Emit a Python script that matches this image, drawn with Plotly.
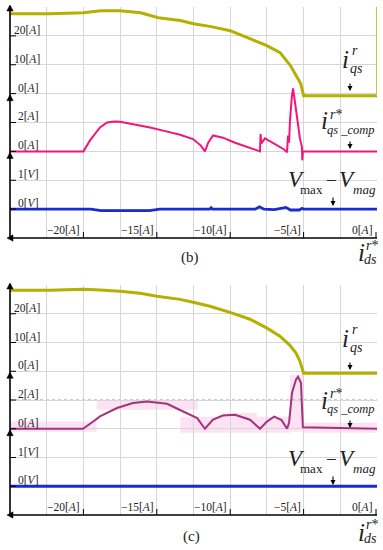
import plotly.graph_objects as go

# ---------------- data ----------------
# panel (b)
b_yel_x = [-25, -22.3, -20.0, -18.8, -17.5, -16.1, -14.9, -13.4, -12.5, -11.3, -10.0, -8.6, -7.5, -6.6, -5.9, -5.5, -5.2, -5.0, 0]
b_yel_y = [27.7, 27.7, 28.0, 28.7, 28.7, 28.0, 26.3, 25.3, 24.2, 23.2, 21.8, 19.0, 16.6, 14.2, 9.7, 6.2, 3.5, -0.7, -0.7]

b_pnk_x = [-25, -20.0, -19.55, -18.87, -18.39, -17.9, -17.5, -16.5, -15.46, -14.5, -13.42, -12.53, -12.0, -11.72,
           -11.5, -11.17, -10.5, -9.67, -8.8, -7.97, -7.93, -7.88, -7.63, -6.95, -6.35, -6.13, -6.06, -5.99,
           -5.93, -5.80, -5.72, -5.60, -5.45, -5.25, -5.11, -5.09, -5.05, 0]
b_pnk_y = [0, 0, 0.76, 1.66, 2.0, 2.07, 2.05, 1.88, 1.66, 1.42, 1.15, 0.85, 0.4, 0.0,
           0.6, 1.1, 0.95, 0.6, 0.32, 0.0, 1.2, 0.55, 0.9, 0.48, 0.15, -0.07, 1.1, 0.6,
           2.1, 3.8, 4.36, 3.5, 2.2, 0.9, 0.28, -0.62, 0, 0]

b_blu_x = [-25, -19.5, -18.8, -15.5, -14.8, -11.4, -11.3, -11.2, -8.3, -8.0, -7.7, -7.0, -6.2, -5.9, -5.3, -5.1, -5.0, 0]
b_blu_y = [0, 0, -0.05, -0.05, 0, 0, 0.05, 0, 0, 0.08, 0, -0.02, 0.06, -0.03, -0.03, 0.03, 0, 0]

# panel (c)
c_yel_x = [-25, -22.28, -20.03, -18.87, -17.51, -16.14, -14.99, -13.42, -12.53, -11.38, -10.01, -8.65, -7.49,
           -6.61, -5.93, -5.52, -5.25, -5.11, -5.04, -5.0, 0]
c_yel_y = [28.2, 28.2, 28.5, 28.3, 27.8, 27.1, 26.1, 25.0, 24.0, 22.6, 20.5, 18.1, 15.0,
           12.2, 9.0, 6.3, 3.5, 1.0, -0.3, -0.7, -0.7]

c_pnk_x = [-25, -20.03, -19.4, -18.87, -17.71, -16.62, -15.67, -14.3, -13.2, -12.25, -11.72,
           -11.17, -10.5, -9.67, -8.65, -7.97, -7.5, -7.0, -6.5, -6.13,
           -5.99, -5.79, -5.52, -5.38, -5.18, -5.11, -5.05, 0]
c_pnk_y = [0, 0, 0.45, 0.86, 1.44, 1.79, 1.90, 1.74, 1.2, 0.74, 0.0,
           0.63, 0.92, 0.97, 0.63, 0.0, 0.5, 0.85, 0.6, 0.0,
           0.42, 2.5, 3.41, 3.62, 3.2, 1.8, 0.1, 0]

c_blu_x = [-25, -15, -10, -5, 0]
c_blu_y = [0, 0, 0, 0, 0]

# light-pink persistence envelope in (c): [x0, x1, y0, y1] in the pink channel units
c_env = [[-25, -19.1, -0.2, 0.5], [-19.1, -12.2, 1.32, 2.02], [-13.4, -5.93, -0.28, 0.83],
         [-10.5, -8.2, 0.77, 1.1], [-5.93, -5.04, -0.2, 3.76], [-5.04, 0, -0.28, 0.42]]

# ---------------- style ----------------
W, H = 383, 550
YEL = '#b4b000'
PNK = '#f2157b'
PNK_D = '#a3347a'
BLU = '#1a2bd0'
GRID = '#d6d6d6'
SERIF = 'Liberation Serif'


def PX(x):
    return x / W


def PY(y):
    return 1 - y / H


fig = go.Figure()

fig.add_trace(go.Scatter(x=b_yel_x, y=b_yel_y, xaxis='x', yaxis='y', mode='lines', line=dict(color=YEL, width=3)))
fig.add_trace(go.Scatter(x=b_pnk_x, y=b_pnk_y, xaxis='x', yaxis='y2', mode='lines', line=dict(color=PNK, width=2)))
fig.add_trace(go.Scatter(x=b_blu_x, y=b_blu_y, xaxis='x', yaxis='y3', mode='lines', line=dict(color=BLU, width=2.8)))

fig.add_trace(go.Scatter(x=c_yel_x, y=c_yel_y, xaxis='x2', yaxis='y4', mode='lines', line=dict(color=YEL, width=3)))
fig.add_trace(go.Scatter(x=c_pnk_x, y=c_pnk_y, xaxis='x2', yaxis='y5', mode='lines', line=dict(color=PNK_D, width=2)))
fig.add_trace(go.Scatter(x=c_blu_x, y=c_blu_y, xaxis='x2', yaxis='y6', mode='lines', line=dict(color=BLU, width=2.8)))

cx = dict(range=[-25, 0], dtick=2.5, tick0=-25, showgrid=True, gridcolor=GRID, gridwidth=1,
          showticklabels=False, zeroline=False, showline=False, ticks='')
cy = dict(range=[-50, 30], dtick=10, tick0=-50, showgrid=True, gridcolor=GRID, gridwidth=1,
          showticklabels=False, zeroline=False, showline=False, ticks='')

fig.update_layout(
    width=W, height=H, margin=dict(l=0, r=0, t=0, b=0, autoexpand=False),
    paper_bgcolor='white', plot_bgcolor='white', showlegend=False,
    xaxis=dict(domain=[PX(10), PX(377)], anchor='y', **cx),
    xaxis2=dict(domain=[PX(10), PX(377)], anchor='y4', **cx),
    yaxis=dict(domain=[PY(238), PY(7)], anchor='x', **cy),
    yaxis2=dict(overlaying='y', anchor='x', range=[-6, 10], visible=False),
    yaxis3=dict(overlaying='y', anchor='x', range=[-1, 7], visible=False),
    yaxis4=dict(domain=[PY(515), PY(285)], anchor='x2', **cy),
    yaxis5=dict(overlaying='y4', anchor='x2', range=[-6, 10], visible=False),
    yaxis6=dict(overlaying='y4', anchor='x2', range=[-1, 7], visible=False),
)

shapes = []
# envelope rectangles (c)  (pink channel units mapped onto the y4 grid scale)
for x0, x1, y0, y1 in c_env:
    shapes.append(dict(type='rect', xref='x2', yref='y4', x0=x0, x1=x1,
                       y0=-50 + (y0 + 6) * 5, y1=-50 + (y1 + 6) * 5,
                       fillcolor='#fde2f3', line=dict(width=0), layer='below'))

# center dotted lines
for xr, yr in (('x', 'y'), ('x2', 'y4')):
    shapes.append(dict(type='line', xref=xr, yref=yr, x0=-25, x1=0, y0=-10, y1=-10,
                       line=dict(color='#9a9a9a', width=1, dash='dot'), layer='below'))
    shapes.append(dict(type='line', xref=xr, yref=yr, x0=-12.5, x1=-12.5, y0=-50, y1=30,
                       line=dict(color='#9a9a9a', width=1, dash='dot'), layer='below'))

# yellow vertical edge in (b)
shapes.append(dict(type='line', xref='x', yref='y', x0=-0.02, x1=-0.02, y0=-0.7, y1=30,
                   line=dict(color='#c9c640', width=1.5)))

panels = [dict(top=7, bot=238, off=0), dict(top=285, bot=515, off=279)]
for p in panels:
    top, bot = p['top'], p['bot']
    step = (bot - top) / 8.0
    # axes lines
    shapes.append(dict(type='line', xref='paper', yref='paper', x0=PX(10), x1=PX(10), y0=PY(top - 1), y1=PY(bot),
                       line=dict(color='black', width=1.6)))
    shapes.append(dict(type='line', xref='paper', yref='paper', x0=PX(10), x1=PX(377), y0=PY(bot), y1=PY(bot),
                       line=dict(color='black', width=1.6)))
    # up arrows (channel markers)
    for tip in (top - 2, top + 3 * step + 1, top + 5 * step + 1):
        shapes.append(dict(type='path', xref='paper', yref='paper',
                           path=f"M {PX(10)},{PY(tip)} L {PX(13.2)},{PY(tip + 6)} L {PX(6.8)},{PY(tip + 6)} Z",
                           fillcolor='black', line=dict(color='black', width=0.5)))
    # left arrow on x axis
    shapes.append(dict(type='path', xref='paper', yref='paper',
                       path=f"M {PX(7)},{PY(bot)} L {PX(13)},{PY(bot - 3.2)} L {PX(13)},{PY(bot + 3.2)} Z",
                       fillcolor='black', line=dict(color='black', width=0.5)))
    # y tick dashes
    for k in range(1, 8):
        g = top + k * step
        shapes.append(dict(type='line', xref='paper', yref='paper', x0=PX(10), x1=PX(16), y0=PY(g), y1=PY(g),
                           line=dict(color='black', width=1)))
    # x tick marks
    for k in (2, 4, 6, 8, 10):
        xx = 10 + k * 36.7 - (1 if k == 10 else 0)
        shapes.append(dict(type='line', xref='paper', yref='paper', x0=PX(xx), x1=PX(xx), y0=PY(bot - 6), y1=PY(bot),
                           line=dict(color='black', width=1)))

# arrows near trace labels
for off in (0, 279):
    for (xa, y0, y1) in ((350, 82, 91), (350, 140, 149), (333, 196, 206)):
        fig.add_annotation(xref='paper', yref='paper', x=PX(xa), y=PY(y1 + off), ax=0, ay=-(y1 - y0),
                           axref='pixel', ayref='pixel', text='', showarrow=True, arrowhead=2,
                           arrowsize=0.9, arrowwidth=1.1, arrowcolor='black')

fig.update_layout(shapes=shapes)


def ann(text, x, y, size, xanchor='center', color='#222222'):
    fig.add_annotation(xref='paper', yref='paper', x=PX(x), y=PY(y), text=text, showarrow=False,
                       xanchor=xanchor, yanchor='middle', font=dict(family=SERIF, size=size, color=color))


ylabels = [(1, '20[<i>A</i>]', 12), (2, '10[<i>A</i>]', 12), (3, '0[<i>A</i>]', 16), (4, '2[<i>A</i>]', 16),
           (5, '0[<i>A</i>]', 16), (6, '1[<i>V</i>]', 16), (7, '0[<i>V</i>]', 16)]
xlabels = [(2, '−20[<i>A</i>]'), (4, '−15[<i>A</i>]'), (6, '−10[<i>A</i>]'), (8, '−5[<i>A</i>]'), (10, '0[<i>A</i>]')]

for p in panels:
    top, bot, off = p['top'], p['bot'], p['off']
    step = (bot - top) / 8.0
    for k, t, x in ylabels:
        ann(t, x, top + k * step - 6, 11.5, xanchor='left')
    for k, t in xlabels:
        xx = 10 + k * 36.7 - (2 if k == 10 else 0)
        ann(t, xx - 1, bot - 8, 11.5, xanchor='right')
    # i_qs^r
    ann('<i>i</i>', 345, 59 + off, 25)
    ann('<i>r</i>', 355, 50 + off, 14)
    ann('<i>qs</i>', 356, 68 + off, 14)
    # i_qs_comp^r*
    ann('<i>i</i>', 324, 121 + off, 25)
    ann('<i>r</i>*', 336, 114 + off, 14)
    ann('<i>qs _comp</i>', 351, 130 + off, 12.5)
    # V_max - V_mag
    ann('<i>V</i>', 296, 179 + off, 23)
    ann('max', 311, 189 + off, 13)
    ann('−', 331, 180 + off, 19)
    ann('<i>V</i>', 347, 179 + off, 23)
    ann('<i>mag</i>', 364, 189 + off, 13)
    # i_ds^r*
    ann('<i>i</i>', 361, 253 + off, 25)
    ann('<i>r</i>*', 372, 245 + off, 14)
    ann('<i>ds</i>', 370, 259 + off, 14)

ann('(b)', 190, 257, 15)
ann('(c)', 191, 536, 15)

fig.write_html('out.html', config={'displayModeBar': False},
               post_script="document.body.style.margin='0';")
